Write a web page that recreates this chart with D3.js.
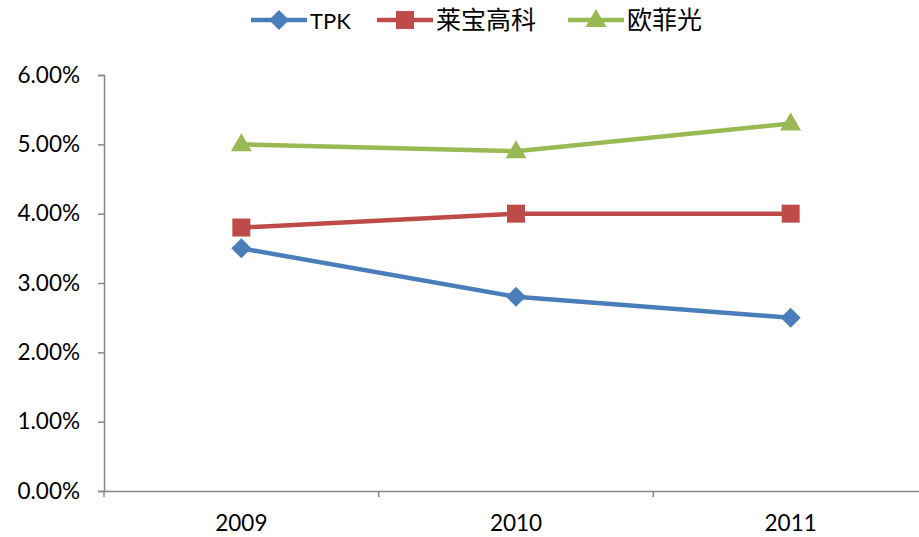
<!DOCTYPE html>
<html>
<head>
<meta charset="utf-8">
<style>
  body { margin: 0; background: #fff; }
  svg { display: block; }
  text { font-family: Lato, 'Noto Sans CJK SC', sans-serif; fill: #000; }
</style>
</head>
<body>
<svg width="919" height="537"></svg>
<script src="https://d3js.org/d3.v7.min.js"></script>
<script>
// chart data
let years = ["2009", "2010", "2011"];
let seriesNames = ["TPK", "莱宝高科", "欧菲光"];
let tpk = [0.035, 0.028, 0.025];
let laibao = [0.038, 0.040, 0.040];
let oufei = [0.050, 0.049, 0.053];
let yTicks = [0, 0.01, 0.02, 0.03, 0.04, 0.05, 0.06];

let colors = ["#4A7EBB", "#BE4B48", "#98B954"];
let allSeries = [tpk, laibao, oufei];

// marker shapes drawn around 0,0
let markers = [
    "M0,-10L10,0L0,10L-10,0Z",
    "M-9,-9H9V9H-9Z",
    "M0,-11L10.5,7H-10.5Z"
];

let svg = d3.select("svg");

let x = d3.scaleBand().domain(years).range([104, 928]);
let y = d3.scaleLinear().domain([0, 0.06]).range([491, 75]);

// y axis
let yAxis = svg.append("g")
    .attr("transform", "translate(104,0)")
    .call(d3.axisLeft(y).tickValues(yTicks).tickFormat(d3.format(".2%")).tickSizeOuter(0).tickSize(6).tickPadding(18));
yAxis.selectAll("text").style("font-size", "22.5px");

// x axis
let xAxis = svg.append("g")
    .attr("transform", "translate(0,491)")
    .call(d3.axisBottom(x).tickSize(0).tickPadding(24));
xAxis.selectAll("text").style("font-size", "22.5px");
xAxis.selectAll(".tick line").remove();
// category boundary ticks
xAxis.selectAll(".bound")
    .data(years)
    .join("line")
    .attr("x1", d => x(d)).attr("x2", d => x(d))
    .attr("y1", 0).attr("y2", 6)
    .attr("stroke", "#868686").attr("stroke-width", 1.5);

svg.selectAll(".domain, .tick line").attr("stroke", "#868686").attr("stroke-width", 1.5);
svg.selectAll("g").attr("font-family", null);

let line = d3.line()
    .x((d, i) => x(years[i]) + x.bandwidth() / 2)
    .y(d => y(d));

allSeries.forEach((vals, s) => {
    svg.append("path")
        .attr("d", line(vals))
        .attr("fill", "none")
        .attr("stroke", colors[s])
        .attr("stroke-width", 4.5)
        .attr("stroke-linejoin", "round");
    svg.selectAll(".m" + s)
        .data(vals)
        .join("path")
        .attr("transform", (d, i) => "translate(" + (x(years[i]) + x.bandwidth() / 2) + "," + y(d) + ")")
        .attr("d", markers[s])
        .attr("fill", colors[s]);
});

// legend
let legendX = [251, 377, 568];
let legendSize = ["22px", "25px", "25px"];
let legend = svg.append("g");
seriesNames.forEach((name, s) => {
    let g = legend.append("g").attr("transform", "translate(" + legendX[s] + ",20)");
    g.append("line").attr("x1", 0).attr("x2", 56).attr("y1", 0).attr("y2", 0)
        .attr("stroke", colors[s]).attr("stroke-width", 4.5);
    g.append("path").attr("transform", "translate(28,0)")
        .attr("d", markers[s])
        .attr("fill", colors[s]);
    g.append("text").attr("x", 59).attr("y", 9)
        .style("font-size", legendSize[s])
        .text(name);
});
</script>
</body>
</html>
